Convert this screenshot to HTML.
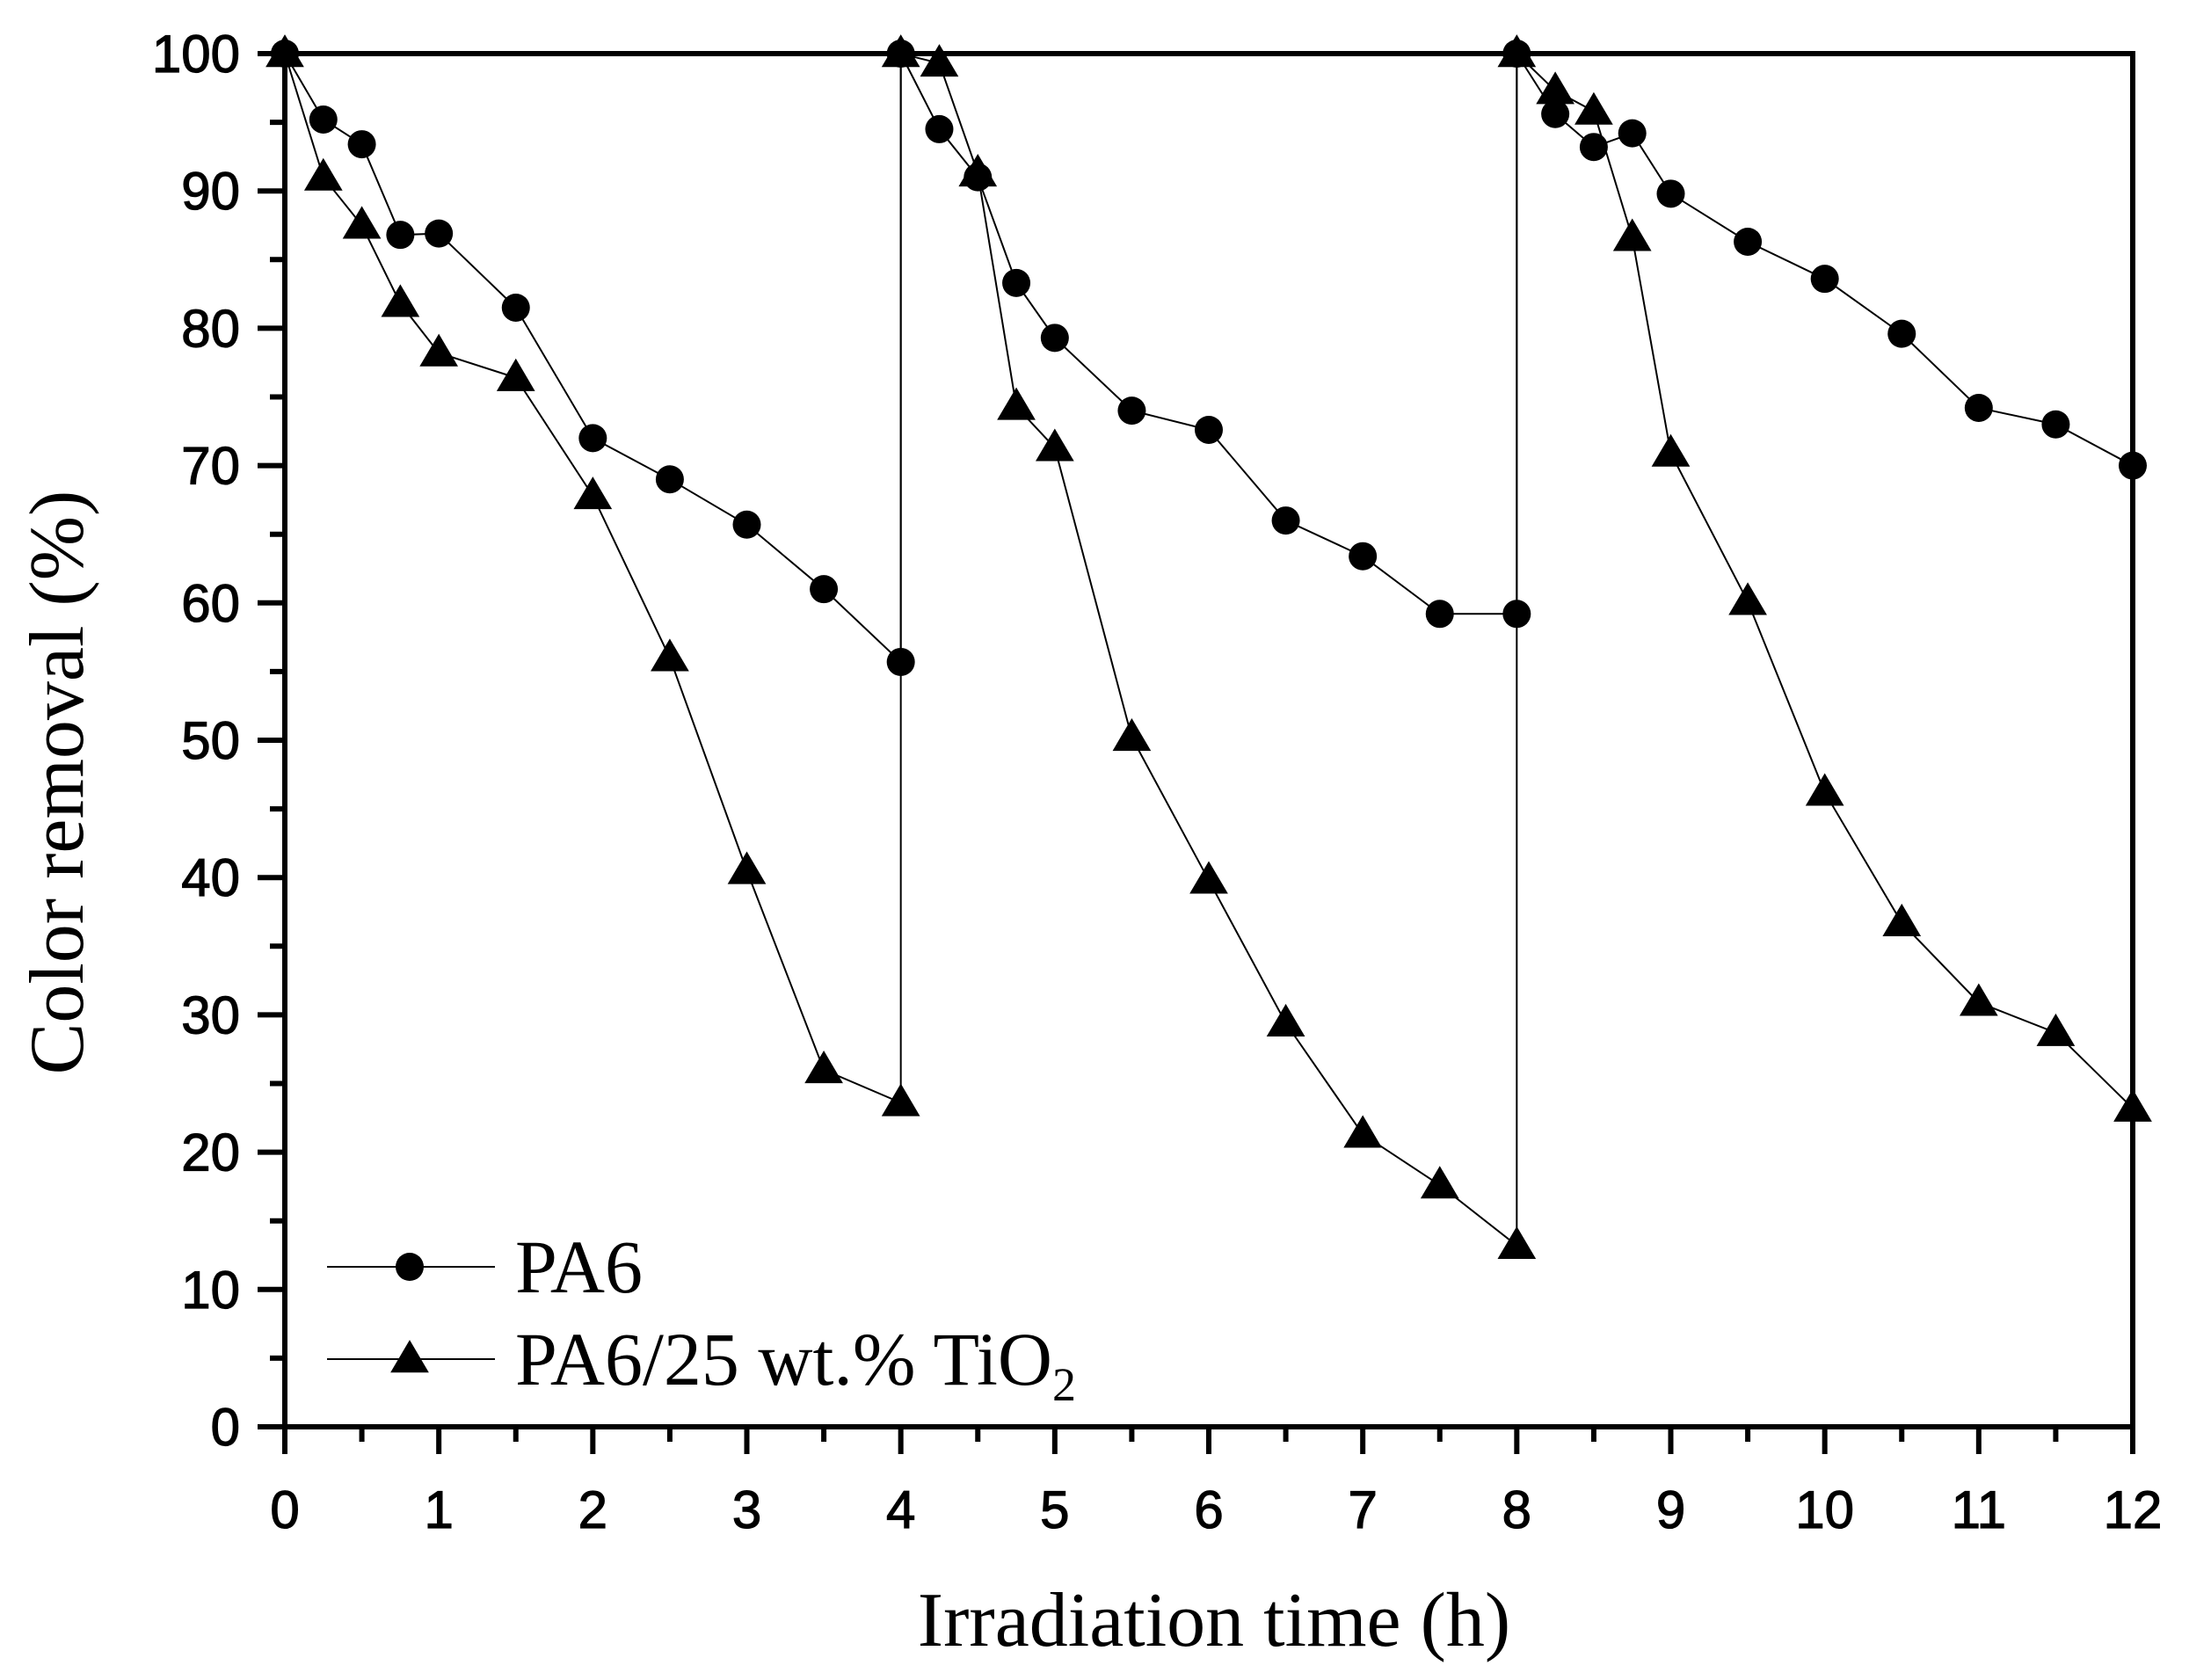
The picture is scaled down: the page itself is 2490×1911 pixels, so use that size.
<!DOCTYPE html>
<html><head><meta charset="utf-8"><style>html,body{margin:0;padding:0;background:#fff}svg{display:block}</style></head>
<body>
<svg id="s" xmlns="http://www.w3.org/2000/svg" width="2490" height="1911" viewBox="0 0 2490 1911">
<rect width="2490" height="1911" fill="#fff"/>
</svg>
<script>
const s=document.getElementById('s');const NS='http://www.w3.org/2000/svg';
const X0=324,X1=2426,Y0=1623,Y1=61;
const X=h=>X0+(X1-X0)*h/12, Y=v=>Y0+(Y1-Y0)*v/100;
function el(t,a,txt){const e=document.createElementNS(NS,t);for(const k in a)e.setAttribute(k,a[k]);if(txt!=null)e.textContent=txt;s.appendChild(e);return e;}
const pa=[[0,100],[0.25,95.2],[0.5,93.4],[0.75,86.8],[1,86.9],[1.5,81.5],[2,72],[2.5,69],[3,65.7],[3.5,61],[4,55.7],[4,100],[4.25,94.5],[4.5,91],[4.75,83.3],[5,79.3],[5.5,74],[6,72.6],[6.5,66],[7,63.4],[7.5,59.2],[8,59.2],[8,100],[8.25,95.6],[8.5,93.2],[8.75,94.2],[9,89.8],[9.5,86.3],[10,83.6],[10.5,79.6],[11,74.2],[11.5,73],[12,70]];
const tr=[[0,100],[0.25,91],[0.5,87.5],[0.75,81.8],[1,78.2],[1.5,76.4],[2,67.8],[2.5,56],[3,40.5],[3.5,26],[4,23.6],[4,100],[4.25,99.3],[4.5,91.3],[4.75,74.3],[5,71.3],[5.5,50.2],[6,39.8],[6.5,29.4],[7,21.3],[7.5,17.6],[8,13.2],[8,100],[8.25,97.3],[8.5,95.8],[8.75,86.6],[9,70.9],[9.5,60.1],[10,46.2],[10.5,36.7],[11,30.9],[11.5,28.7],[12,23.2]];
function line(d){el('polyline',{points:d.map(p=>X(p[0])+','+Y(p[1])).join(' '),fill:'none',stroke:'#000','stroke-width':2});}
line(pa);line(tr);
const R=16;
function circ(x,y){el('circle',{cx:x,cy:y,r:R,fill:'#000'});}
function tri(x,y){const a=19;el('polygon',{points:`${x},${y-a*1.15} ${x-a*1.15},${y+a*0.8} ${x+a*1.15},${y+a*0.8}`,fill:'#000'});}
pa.forEach(p=>circ(X(p[0]),Y(p[1])));
tr.forEach(p=>tri(X(p[0]),Y(p[1])));
el('rect',{x:X0,y:Y1,width:X1-X0,height:Y0-Y1,fill:'none',stroke:'#000','stroke-width':6});
const tf={'font-family':'Liberation Sans, sans-serif','font-size':60,stroke:'#000','stroke-width':1.2};
for(let i=0;i<=24;i++){const h=i/2,x=X(h),L=i%2?17:31;el('line',{x1:x,y1:Y0,x2:x,y2:Y0+L,stroke:'#000','stroke-width':6});
 if(i%2==0)el('text',Object.assign({x:x,y:1738,'text-anchor':'middle'},tf),String(h));}
for(let i=0;i<=20;i++){const v=i*5,y=Y(v),L=i%2?17:31;el('line',{x1:X0,y1:y,x2:X0-L,y2:y,stroke:'#000','stroke-width':6});
 if(i%2==0)el('text',Object.assign({x:273,y:y+21,'text-anchor':'end'},tf),String(v));}
el('text',{x:1381,y:1872,'font-family':'Liberation Serif, serif','font-size':88,'text-anchor':'middle'},'Irradiation time (h)');
el('text',{x:0,y:0,transform:'translate(94,890) rotate(-90)','font-family':'Liberation Serif, serif','font-size':88,'text-anchor':'middle'},'Color removal (%)');
el('line',{x1:372,y1:1441,x2:563,y2:1441,stroke:'#000','stroke-width':2});circ(466,1441);
el('line',{x1:372,y1:1546,x2:563,y2:1546,stroke:'#000','stroke-width':2});tri(466,1546);
el('text',{x:586,y:1470,'font-family':'Liberation Serif, serif','font-size':86},'PA6');
const t=el('text',{x:586,y:1575,'font-family':'Liberation Serif, serif','font-size':86},'PA6/25 wt.% TiO');
const sub=document.createElementNS(NS,'tspan');sub.setAttribute('font-size',54);sub.setAttribute('dy',18);sub.textContent='2';t.appendChild(sub);
</script>
</body></html>
